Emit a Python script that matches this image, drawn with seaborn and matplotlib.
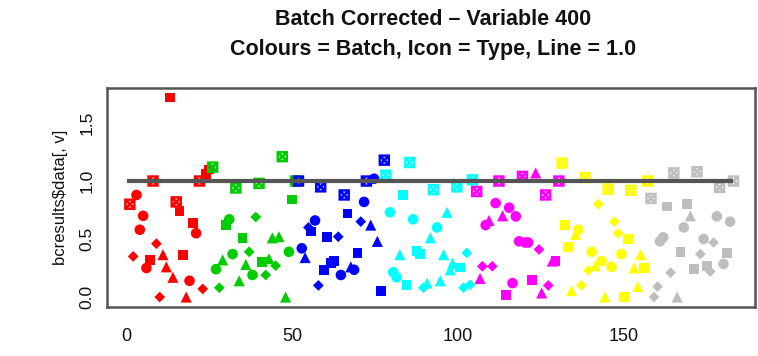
import numpy as np
import pandas as pd
import matplotlib
matplotlib.use("Agg")
import matplotlib.pyplot as plt
from matplotlib.path import Path
import seaborn as sns

# ---------------- data ----------------
# type codes: S = filled square, C = circle, T = triangle, D = diamond, X = boxed cross (pch 7)
red_x = [1, 2, 3, 4, 5, 6, 7, 8, 9, 10, 11, 12, 13, 14, 15, 16, 17, 18, 19, 20, 21, 22, 23, 24, 25]
red_y = [0.80, 0.35, 0.88, 0.58, 0.70, 0.25, 0.32, 1.00, 0.46, 0.00, 0.365, 0.26, 1.72, 0.17, 0.82,
         0.74, 0.365, 0.00, 0.14, 0.64, 0.55, 1.00, 0.07, 1.06, 1.10]
red_t = ["X", "D", "C", "C", "C", "C", "S", "X", "D", "D", "T", "T", "S", "T", "X",
         "S", "S", "T", "C", "S", "C", "X", "D", "S", "S"]

green_x = [26, 27, 28, 29, 30, 31, 32, 33, 34, 35, 36, 37, 38, 39, 40, 41, 42, 43, 44, 45, 46, 47, 48, 49, 50, 51]
green_y = [1.12, 0.24, 0.08, 0.32, 0.62, 0.67, 0.37, 0.94, 0.14, 0.51, 0.28, 0.39, 0.19, 0.69, 0.98,
           0.30, 0.19, 0.33, 0.51, 0.27, 0.52, 1.21, 0.00, 0.39, 0.84, 1.00]
green_t = ["X", "C", "D", "T", "S", "C", "C", "X", "T", "S", "T", "D", "C", "D", "X",
           "S", "D", "T", "T", "D", "T", "X", "T", "C", "S", "X"]

blue_x = [51.9, 52.9, 53.9, 54.9, 55.6, 56.9, 57.9, 58.6, 59.6, 60.6, 61.6, 62.7, 63.9, 64.7, 65.7,
          66.7, 67.7, 68.7, 69.7, 70.7, 71.7, 72.4, 73.7, 74.7, 75.7, 76.7, 77.8]
blue_y = [1.00, 0.42, 0.34, 0.60, 0.565, 0.66, 0.10, 0.95, 0.235, 0.52, 0.29, 0.31, 0.52, 0.19, 0.88,
          0.72, 0.26, 0.235, 0.38, 0.65, 0.82, 1.00, 0.62, 1.02, 0.48, 0.05, 1.18]
blue_t = ["X", "C", "T", "D", "S", "C", "D", "X", "S", "S", "S", "S", "D", "C", "X",
          "S", "T", "C", "S", "D", "C", "X", "T", "C", "T", "S", "X"]

cyan_x = [78.3, 79.5, 80.5, 81.5, 82.5, 83.5, 84.5, 85.5, 86.5, 87.5, 88.5, 89.6, 90.7, 91.7, 92.7,
          93.7, 94.7, 95.7, 96.7, 97.7, 98.4, 99.7, 100.7, 101.7, 102.7, 103.7, 104.4]
cyan_y = [1.05, 0.73, 0.215, 0.17, 0.365, 0.88, 0.106, 1.16, 0.67, 0.40, 0.37, 0.08, 0.12, 0.51, 0.925,
          0.60, 0.14, 0.365, 0.73, 0.235, 0.29, 0.95, 0.255, 0.08, 0.38, 0.106, 1.01]
cyan_t = ["X", "C", "C", "C", "T", "S", "S", "X", "C", "S", "S", "D", "T", "T", "X",
          "C", "T", "T", "T", "T", "T", "X", "S", "D", "D", "D", "X"]

magenta_x = [105.7, 106.7, 107.4, 108.4, 109.4, 110.4, 111.4, 112.4, 113.5, 114.5, 115.5, 116.5, 117.5,
             118.5, 119.5, 120.3, 121.2, 122.5, 123.5, 124.5, 125.3, 126.5, 127.3, 128.5, 129.5, 130.5]
magenta_y = [0.91, 0.16, 0.265, 0.62, 0.66, 0.265, 0.81, 1.00, 0.70, 0.015, 0.77, 0.12, 0.695,
             0.48, 1.04, 0.47, 0.47, 0.15, 1.07, 0.41, 0.035, 0.88, 0.10, 0.31, 0.31, 1.00]
magenta_t = ["X", "T", "D", "C", "T", "D", "C", "X", "T", "S", "C", "C", "C",
             "C", "X", "C", "C", "S", "T", "D", "T", "X", "D", "T", "S", "X"]

yellow_x = [131.5, 132.3, 133.3, 134.3, 135.5, 136.3, 137.3, 138.4, 139.4, 140.4, 141.5, 142.4, 143.4,
            144.4, 145.4, 146.4, 147.2, 148.4, 149.4, 150.2, 151.4, 152.2, 153.2, 154.3, 155.2, 156.2, 157.3]
yellow_y = [1.155, 0.62, 0.43, 0.055, 0.54, 0.58, 0.10, 1.03, 0.23, 0.39, 0.27, 0.80, 0.31,
            0.00, 0.93, 0.26, 0.65, 0.55, 0.37, 0.00, 0.50, 0.92, 0.25, 0.09, 0.365, 0.25, 1.00]
yellow_t = ["X", "S", "S", "T", "T", "C", "D", "X", "D", "C", "T", "D", "C",
            "T", "X", "C", "D", "D", "C", "S", "S", "X", "T", "T", "T", "S", "X"]

gray_x = [158.3, 159.2, 160.3, 161.0, 162.0, 163.2, 164.2, 165.2, 166.2, 167.2, 168.2, 169.2, 170.2,
          171.2, 172.2, 173.2, 174.2, 175.2, 176.2, 177.2, 178.2, 179.0, 180.2, 181.2, 182.2, 183.2]
gray_y = [0.85, 0.00, 0.09, 0.48, 0.515, 0.78, 0.21, 1.07, 0.00, 0.39, 0.60, 0.80, 0.70,
          0.245, 1.08, 0.37, 0.50, 0.265, 0.22, 0.47, 0.695, 0.945, 0.285, 0.38, 0.65, 1.00]
gray_t = ["X", "D", "D", "C", "C", "S", "D", "X", "T", "S", "C", "S", "T",
          "S", "X", "D", "C", "S", "D", "D", "C", "X", "C", "S", "C", "X"]

batch_names = ["2", "3", "4", "5", "6", "7", "8"]
batch_colors = ["#FF0000", "#00CD00", "#0000FF", "#00FFFF", "#FF00FF", "#FFFF00", "#BEBEBE"]
line_level = 1.0

title = "Batch Corrected \u2013 Variable 400\nColours = Batch, Icon = Type, Line = 1.0"
y_label = "bcresults$data[, v]"
x_ticks = [0, 50, 100, 150]
y_ticks = [0.0, 0.5, 1.0, 1.5]
y_tick_labels = ["0.0", "0.5", "1.0", "1.5"]

# ---------------- frame ----------------
series = [(red_x, red_y, red_t), (green_x, green_y, green_t), (blue_x, blue_y, blue_t),
          (cyan_x, cyan_y, cyan_t), (magenta_x, magenta_y, magenta_t),
          (yellow_x, yellow_y, yellow_t), (gray_x, gray_y, gray_t)]
frames = []
for name, (xs, ys, ts) in zip(batch_names, series):
    frames.append(pd.DataFrame({"x": xs, "y": ys, "type": ts, "batch": name}))
df = pd.concat(frames, ignore_index=True)
palette = dict(zip(batch_names, batch_colors))


def boxed_cross_marker(t=0.42, w=0.24):
    """Filled square with four small triangular holes -> looks like a thick R pch 7."""
    verts = [(-1, -1), (1, -1), (1, 1), (-1, 1), (-1, -1)]
    codes = [Path.MOVETO, Path.LINETO, Path.LINETO, Path.LINETO, Path.CLOSEPOLY]
    d = w * np.sqrt(2)
    e = 1 - t
    a = e - d
    holes = [
        [(0, d), (-a, e), (a, e)],
        [(0, -d), (a, -e), (-a, -e)],
        [(d, 0), (e, a), (e, -a)],
        [(-d, 0), (-e, -a), (-e, a)],
    ]
    for h in holes:
        verts += h + [h[0]]
        codes += [Path.MOVETO, Path.LINETO, Path.LINETO, Path.CLOSEPOLY]
    return Path(verts, codes)


markers = {"S": "s", "C": "o", "T": "^", "D": "D", "X": boxed_cross_marker()}
sizes = {"S": 50, "C": 58, "T": 64, "D": 30, "X": 68}

# ---------------- figure ----------------
sns.set_style("white")
plt.rcParams["font.family"] = ["Liberation Sans", "DejaVu Sans"]

fig = plt.figure(figsize=(7.58, 3.56), dpi=100)
ax = fig.add_axes([107 / 758, 1 - 307 / 356, (755 - 107) / 758, (307 - 88) / 356])

for code in ["S", "C", "T", "D", "X"]:
    sub = df[df["type"] == code]
    sns.scatterplot(data=sub, x="x", y="y", hue="batch", palette=palette,
                    marker=markers[code], s=sizes[code], linewidth=0,
                    legend=False, ax=ax, zorder=2)

x_end = df["x"].max()
ax.plot([0, x_end], [line_level, line_level], color="#555555", lw=3, zorder=3,
        solid_capstyle="butt")

ax.set_xlim(-5.9, 189.7)
ax.set_ylim(-0.086, 1.802)
ax.set_xticks(x_ticks)
ax.set_xticklabels([str(v) for v in x_ticks], fontsize=13)
ax.set_yticks(y_ticks)
ax.set_yticklabels(y_tick_labels, fontsize=12.5, rotation=90, va="center")
ax.tick_params(axis="both", direction="out", length=7, width=1.3, color="#333333",
               labelcolor="#111111")
ax.tick_params(axis="y", pad=2)
ax.tick_params(axis="x", pad=8)
ax.set_xlabel("")
ax.set_ylabel(y_label, fontsize=12, labelpad=8, color="#111111")
for sp in ax.spines.values():
    sp.set_color("#555555")
    sp.set_linewidth(1.8)

fig.suptitle(title, fontsize=15.5, fontweight="bold", y=0.975, linespacing=1.55, x=0.571,
             color="#111111")

fig.savefig("out.png", dpi=100)
